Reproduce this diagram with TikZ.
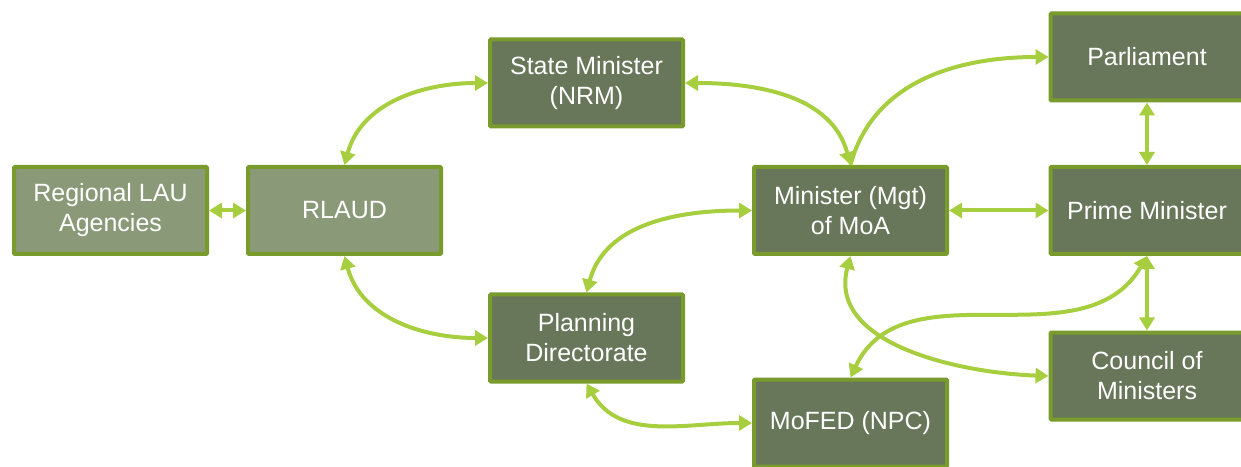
\documentclass[tikz,border=0pt]{standalone}
\usepackage{fontspec}
\setmainfont{Liberation Sans}
\usetikzlibrary{arrows.meta}
\definecolor{darkfill}{HTML}{68765A}
\definecolor{lightfill}{HTML}{8A9A78}
\definecolor{boxedge}{HTML}{789B2C}
\definecolor{arrowgreen}{HTML}{A6CE3E}
\tikzset{
  box/.style={draw=boxedge, line width=4pt, fill=darkfill, minimum width=193pt, minimum height=87pt,
    text=white, align=center, font=\fontsize{25}{30}\selectfont, inner sep=0pt, rounded corners=1pt},
  lightbox/.style={box, fill=lightfill},
  link/.style={draw=arrowgreen, line width=4pt, {Triangle[length=13pt,width=15pt]}-{Triangle[length=13pt,width=15pt]}},
  onelink/.style={draw=arrowgreen, line width=4pt, -{Triangle[length=13pt,width=15pt]}}
}
\begin{document}
\begin{tikzpicture}[x=1pt,y=1pt]
\useasboundingbox (0,0) rectangle (1241,466);
\clip (0,0) rectangle (1241,466);
\node[lightbox] (rla) at (110.5,255.5) {Regional LAU\\Agencies};
\node[lightbox] (rlaud) at (344.5,255.5) {RLAUD};
\node[box] (sm) at (586.5,383) {State Minister\\(NRM)};
\node[box] (pd) at (586.5,128) {Planning\\Directorate};
\node[box] (mm) at (850.5,255.5) {Minister (Mgt)\\of MoA};
\node[box] (mofed) at (850.5,43) {MoFED (NPC)};
\node[box] (parl) at (1147,409) {Parliament};
\node[box] (pm) at (1147,255.5) {Prime Minister};
\node[box] (com) at (1147,90) {Council of\\Ministers};

\draw[link] (rla.east) -- (rlaud.west);
\draw[link] (rlaud.north) to[out=75,in=180] (sm.west);
\draw[link] (rlaud.south) to[out=-75,in=180] (pd.west);
\draw[link] (sm.east) to[out=0,in=105] (mm.north);
\draw[onelink] (mm.north) to[out=75,in=180] (parl.west);
\draw[link] (mm.west) to[out=180,in=75] (pd.north);
\draw[link] (mm.east) -- (pm.west);
\draw[link] (parl.south) -- (pm.north);
\draw[link] (pm.south) -- (com.north);
\draw[link] (mm.south) to[out=-105,in=178] (com.west);
\draw[link] (pm.south) to[out=-120,in=65] (mofed.north);
\draw[link] (pd.south) to[out=-60,in=180] (mofed.west);
\end{tikzpicture}
\end{document}
